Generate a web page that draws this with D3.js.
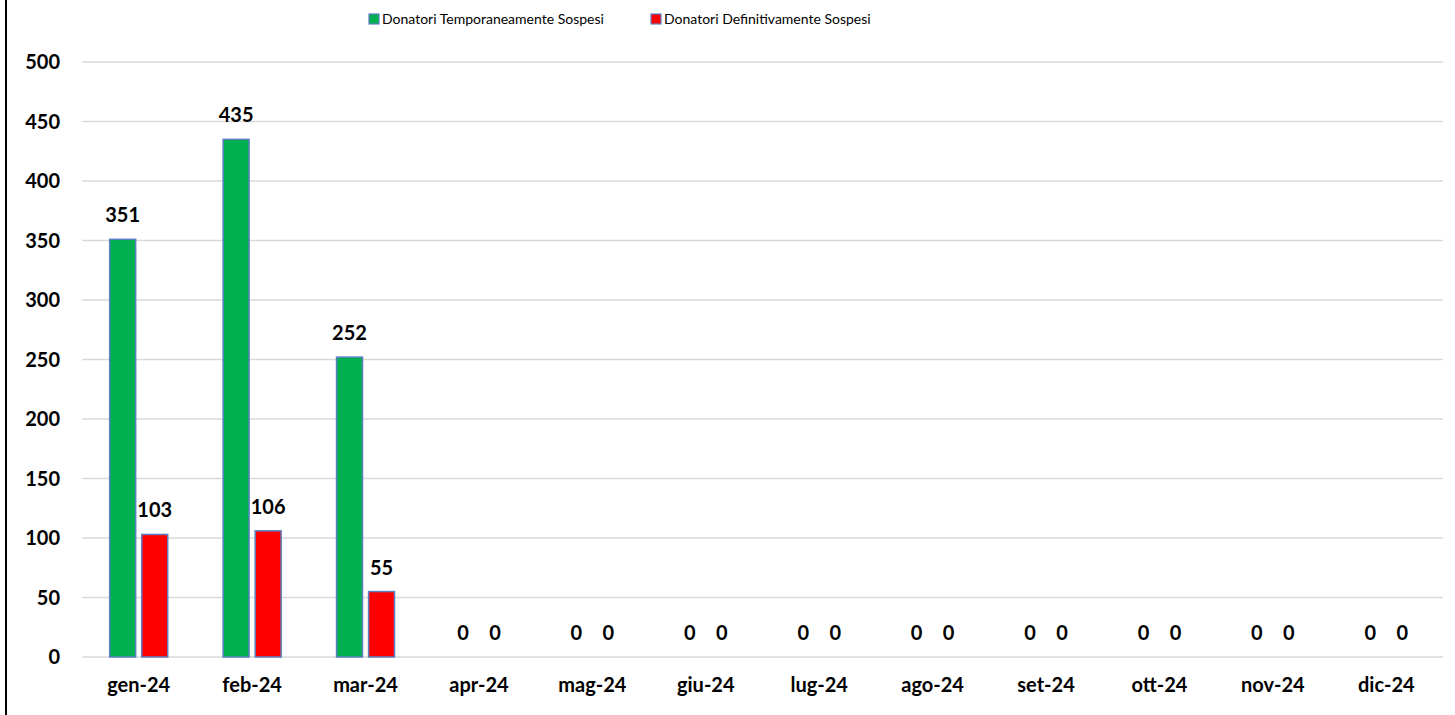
<!DOCTYPE html>
<html>
<head>
<meta charset="utf-8">
<script src="https://cdn.jsdelivr.net/npm/d3@7"></script>
<style>
	body { margin: 0; background: #fff; }
	text { font-family: Lato, "Noto Sans", sans-serif; }
</style>
</head>
<body>
<script>
const months = ["gen-24", "feb-24", "mar-24", "apr-24", "mag-24", "giu-24", "lug-24", "ago-24", "set-24", "ott-24", "nov-24", "dic-24"];
const temporanei = [351, 435, 252, 0, 0, 0, 0, 0, 0, 0, 0, 0];
const definitivi = [103, 106, 55, 0, 0, 0, 0, 0, 0, 0, 0, 0];
const seriesNames = ["Donatori Temporaneamente Sospesi", "Donatori Definitivamente Sospesi"];
const seriesColors = ["#00B050", "#FF0000"];
const yTicks = [0, 50, 100, 150, 200, 250, 300, 350, 400, 450, 500];

const width = 1455, height = 715;
const margin = { left: 82, right: 12, top: 62, bottom: 58 };

const svg = d3.select("body").append("svg")
	.attr("width", width)
	.attr("height", height);

// left border line
svg.append("line")
	.attr("x1", 6).attr("x2", 6)
	.attr("y1", 0).attr("y2", height)
	.attr("stroke", "#000").attr("stroke-width", 2);

const x = d3.scaleBand()
	.domain(months)
	.range([margin.left, width - margin.right]);

const x1 = d3.scaleBand()
	.domain([0, 1])
	.range([x.bandwidth() / 2 - 29, x.bandwidth() / 2 + 29])
	.paddingInner(0.19);

const y = d3.scaleLinear()
	.domain([0, 500])
	.range([height - margin.bottom, margin.top]);

// gridlines
svg.append("g")
	.selectAll("line")
	.data(yTicks)
	.enter().append("line")
	.attr("x1", margin.left)
	.attr("x2", width - margin.right)
	.attr("y1", d => y(d))
	.attr("y2", d => y(d))
	.attr("stroke", "#d9d9d9")
	.attr("stroke-width", 1.5);

// y axis labels
svg.append("g")
	.selectAll("text")
	.data(yTicks)
	.enter().append("text")
	.attr("x", 60)
	.attr("y", d => y(d))
	.attr("dy", "0.36em")
	.attr("text-anchor", "end")
	.attr("font-size", "20px")
	.attr("font-weight", "bold")
	.attr("fill", "#000")
	.text(d => d);

// x axis labels
svg.append("g")
	.selectAll("text")
	.data(months)
	.enter().append("text")
	.attr("x", d => x(d) + x.bandwidth() / 2)
	.attr("y", 692)
	.attr("text-anchor", "middle")
	.attr("font-size", "20px")
	.attr("font-weight", "bold")
	.attr("fill", "#000")
	.text(d => d);

const rows = months.map((m, i) => ({ month: m, values: [temporanei[i], definitivi[i]] }));

const groups = svg.append("g")
	.selectAll("g")
	.data(rows)
	.enter().append("g")
	.attr("transform", d => `translate(${x(d.month)},0)`);

groups.selectAll("rect")
	.data(d => d.values.map((v, k) => ({ k, v })))
	.enter().append("rect")
	.filter(d => d.v > 0)
	.attr("x", d => x1(d.k))
	.attr("y", d => y(d.v))
	.attr("width", x1.bandwidth())
	.attr("height", d => y(0) - y(d.v))
	.attr("fill", d => seriesColors[d.k])
	.attr("stroke", "#5B7FC0")
	.attr("stroke-width", 1.5);

groups.selectAll("text")
	.data(d => d.values.map((v, k) => ({ k, v })))
	.enter().append("text")
	.attr("x", d => x1(d.k) + x1.bandwidth() / 2)
	.attr("y", d => y(d.v) - 17)
	.attr("text-anchor", "middle")
	.attr("font-size", "20px")
	.attr("font-weight", "bold")
	.attr("fill", "#000")
	.text(d => d.v);

// legend
const legendX = [369, 651];
const legend = svg.append("g")
	.selectAll("g")
	.data(seriesNames)
	.enter().append("g")
	.attr("transform", (d, i) => `translate(${legendX[i]},14)`);

legend.append("rect")
	.attr("width", 10).attr("height", 10)
	.attr("fill", (d, i) => seriesColors[i])
	.attr("stroke", "#5B7FC0")
	.attr("stroke-width", 1.2);

legend.append("text")
	.attr("x", 13)
	.attr("y", 5)
	.attr("dy", "0.36em")
	.attr("font-size", "14px")
	.attr("fill", "#000")
	.text(d => d);
</script>
</body>
</html>
